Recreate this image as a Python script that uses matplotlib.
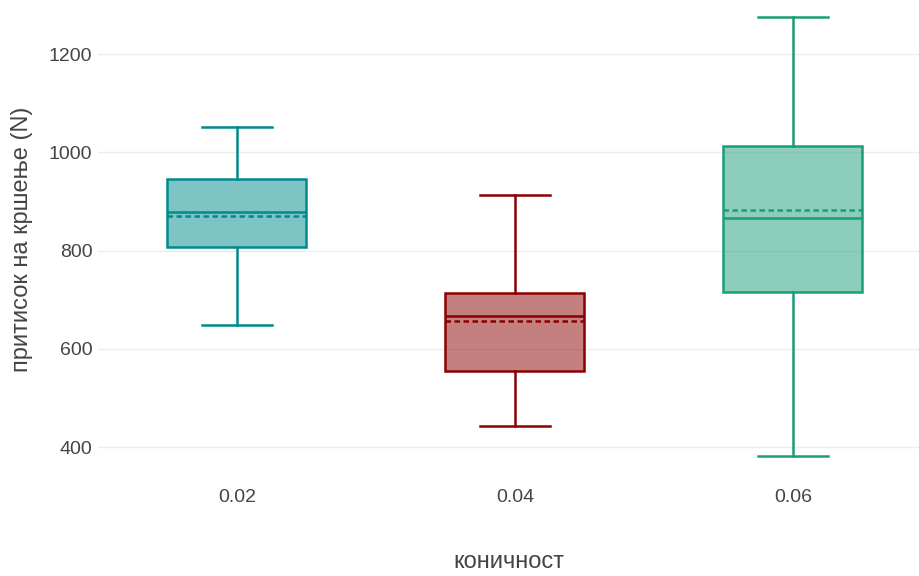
import matplotlib.pyplot as plt

plt.rcParams['font.family'] = ['Liberation Sans', 'DejaVu Sans']

categories = ['0.02', '0.04', '0.06']
whislo = [648, 444, 381]
q1 = [807, 554, 715]
med = [878, 666, 866]
mean = [870, 656, 882]
q3 = [945, 713, 1013]
whishi = [1051, 913, 1275]
colors = ['#008b8b', '#8b0000', '#1b9e77']

stats = []
for i, name in enumerate(categories):
    stats.append({'label': name, 'whislo': whislo[i], 'q1': q1[i], 'med': med[i],
                  'mean': mean[i], 'q3': q3[i], 'whishi': whishi[i], 'fliers': []})

fig = plt.figure(figsize=(9.2, 5.76), dpi=100)
ax = fig.add_axes([0.1065, 0.17, 0.8935, 0.83])

lw = 1.8
for i, s in enumerate(stats):
    c = colors[i]
    ax.bxp([s], positions=[i], widths=0.5, patch_artist=True, showmeans=True,
           meanline=True, showfliers=False,
           boxprops=dict(facecolor=c + '80', edgecolor=c, linewidth=lw),
           medianprops=dict(color=c, linewidth=lw),
           meanprops=dict(color=c, linewidth=lw, linestyle=(0, (2.2, 1.4))),
           whiskerprops=dict(color=c, linewidth=lw),
           capprops=dict(color=c, linewidth=lw),
           capwidths=0.25)

ax.set_xlim(-0.5, 2.457)
ax.set_ylim(337, 1310)
ax.set_yticks([400, 600, 800, 1000, 1200])
ax.set_xticks(range(len(categories)))
ax.set_xticklabels(categories)
ax.grid(axis='y', color='#eeeeee', linewidth=1)
ax.set_axisbelow(True)
for sp in ax.spines.values():
    sp.set_visible(False)
ax.tick_params(length=0, labelsize=14, colors='#444444', pad=4)
ax.tick_params(axis='x', pad=8)
ax.set_xlabel('коничност', fontsize=17, color='#444444')
ax.set_ylabel('притисок на кршење (N)', fontsize=17, color='#444444')
ax.xaxis.set_label_coords(0.5, -(562 - 478) / 478, transform=ax.transAxes)
ax.yaxis.set_label_coords(-(98 - 22) / 822, 0.5, transform=ax.transAxes)
ax.xaxis.label.set_va('center')
ax.yaxis.label.set_va('center')

fig.savefig('out.png', dpi=100)
